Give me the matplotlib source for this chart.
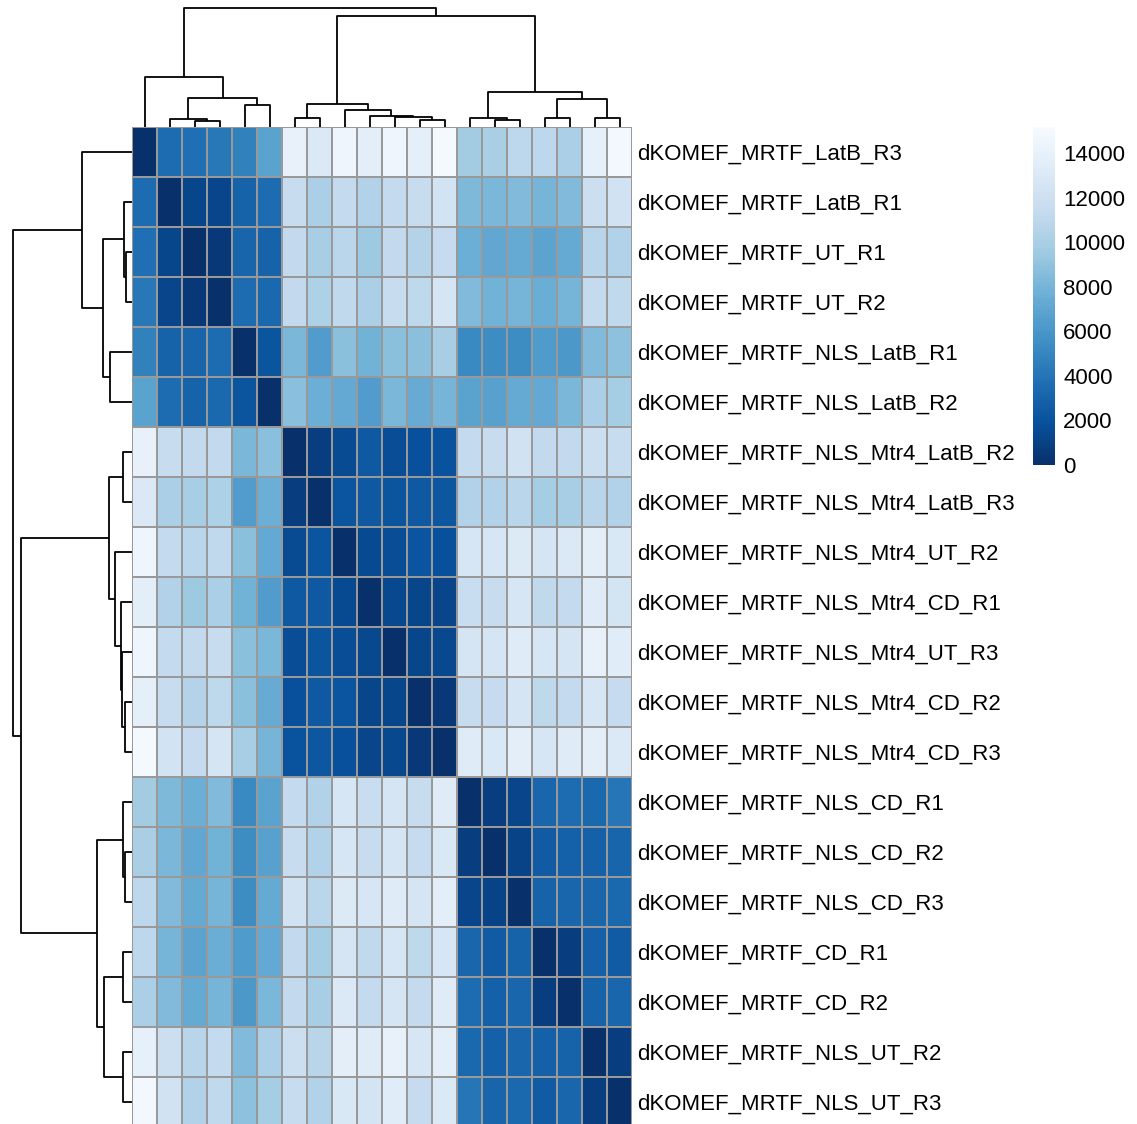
import numpy as np
import matplotlib
matplotlib.use("Agg")
import matplotlib.pyplot as plt
from matplotlib.colors import LinearSegmentedColormap

plt.rcParams['font.family'] = ['Liberation Sans', 'DejaVu Sans']

# sample names, already in clustered order (rows == columns)
samples = [
    "dKOMEF_MRTF_LatB_R3", "dKOMEF_MRTF_LatB_R1", "dKOMEF_MRTF_UT_R1",
    "dKOMEF_MRTF_UT_R2", "dKOMEF_MRTF_NLS_LatB_R1", "dKOMEF_MRTF_NLS_LatB_R2",
    "dKOMEF_MRTF_NLS_Mtr4_LatB_R2", "dKOMEF_MRTF_NLS_Mtr4_LatB_R3",
    "dKOMEF_MRTF_NLS_Mtr4_UT_R2", "dKOMEF_MRTF_NLS_Mtr4_CD_R1",
    "dKOMEF_MRTF_NLS_Mtr4_UT_R3", "dKOMEF_MRTF_NLS_Mtr4_CD_R2",
    "dKOMEF_MRTF_NLS_Mtr4_CD_R3", "dKOMEF_MRTF_NLS_CD_R1",
    "dKOMEF_MRTF_NLS_CD_R2", "dKOMEF_MRTF_NLS_CD_R3", "dKOMEF_MRTF_CD_R1",
    "dKOMEF_MRTF_CD_R2", "dKOMEF_MRTF_NLS_UT_R2", "dKOMEF_MRTF_NLS_UT_R3",
]

# sample distances, upper triangle (row i holds columns i+1 .. 19)
upper = [
    [3500, 3700, 4200, 4700, 6800, 14000, 13000, 14500, 13600, 14400, 13800, 14900, 9700, 10000, 10900, 10900, 10100, 13900, 14800],
    [1300, 1200, 3000, 3500, 11500, 10100, 11300, 10400, 11300, 11500, 12300, 8300, 8200, 8400, 8000, 8400, 11800, 12200],
    [500, 3100, 3000, 11200, 9900, 10800, 9500, 11200, 10500, 11400, 7600, 7100, 7300, 6900, 7300, 10700, 10400],
    [3500, 3300, 11200, 10200, 11100, 10100, 11500, 11000, 12500, 8400, 7800, 8000, 7500, 8000, 11300, 11100],
    [2200, 8200, 6400, 8800, 7800, 8800, 8800, 9900, 5200, 5400, 5400, 6300, 6100, 8400, 8900],
    [8700, 7600, 7200, 6400, 8200, 7400, 8000, 6800, 6700, 7300, 7200, 8200, 10100, 9800],
    [800, 1600, 2400, 1700, 1900, 2000, 11300, 11500, 12200, 11200, 11200, 11800, 11500],
    [2100, 2400, 2200, 2400, 2300, 10400, 10400, 10800, 9800, 9900, 10700, 10400],
    [1500, 1700, 2100, 1900, 12700, 12700, 13100, 12500, 13000, 13600, 12900],
    [1400, 1300, 1200, 11600, 11500, 12700, 11100, 11300, 13300, 12400],
    [1300, 1400, 12500, 12600, 13300, 12700, 12600, 14000, 13400],
    [500, 11500, 11400, 12500, 11000, 11300, 12700, 11400],
    [13300, 12900, 13600, 12700, 13300, 13600, 13000],
    [800, 1200, 3200, 3500, 3300, 4000],
    [1100, 2500, 2900, 2900, 3100],
    [3000, 3200, 3200, 3300],
    [800, 2900, 2500],
    [3000, 3200],
    [800],
]

# hierarchical clustering merges: (left, right, height); new nodes numbered from 20
merges = [
    (2, 3, 5.7), (1, 20, 7.7), (4, 5, 22.3), (21, 22, 29.3), (0, 23, 50.0),
    (6, 7, 9.0), (11, 12, 6.7), (10, 26, 10.0), (9, 27, 10.7), (8, 28, 16.7),
    (25, 29, 22.7), (14, 15, 7.3), (13, 31, 8.7), (16, 17, 8.7), (18, 19, 8.7),
    (33, 34, 28.0), (32, 35, 34.7), (30, 36, 110.7), (24, 37, 119.3),
]

cbar_ticks = [0, 2000, 4000, 6000, 8000, 10000, 12000, 14000]

n = len(samples)
mat = np.zeros((n, n))
for i, row in enumerate(upper):
    for k, v in enumerate(row):
        mat[i, i + 1 + k] = v
        mat[i + 1 + k, i] = v

blues = ["#F7FBFF", "#DEEBF7", "#C6DBEF", "#9ECAE1", "#6BAED6",
         "#4292C6", "#2171B5", "#08519C", "#08306B"]
cmap = LinearSegmentedColormap.from_list("blues_r", blues[::-1], N=255)
vmax = 15170

W, H = 1137, 1124
fig = plt.figure(figsize=(W / 100, H / 100), dpi=100)


def box(x0, y0, w, h):
    # pixel box (top-left origin) -> figure fraction
    return [x0 / W, (H - y0 - h) / H, w / W, h / H]


# heatmap
ax = fig.add_axes(box(132, 127, 500, 1000))
mesh = ax.pcolormesh(mat, cmap=cmap, vmin=0, vmax=vmax,
                     edgecolors="#999999", linewidth=1.2)
ax.set_xlim(0, n)
ax.set_ylim(n, 0)
ax.set_xticks([])
ax.set_yticks(np.arange(n) + 0.5)
ax.set_yticklabels(samples, fontsize=16)
ax.yaxis.tick_right()
ax.tick_params(axis="y", length=0, pad=4)
for s in ax.spines.values():
    s.set_visible(False)


def draw_dendro(axis, vertical):
    pos = {i: i + 0.5 for i in range(n)}
    hgt = {i: 0.0 for i in range(n)}
    for k, (a, b, h) in enumerate(merges):
        xs = [pos[a], pos[a], pos[b], pos[b]]
        ys = [hgt[a], h, h, hgt[b]]
        if vertical:
            axis.plot(xs, ys, color="black", lw=1.3, solid_capstyle="butt")
        else:
            axis.plot(ys, xs, color="black", lw=1.3, solid_capstyle="butt")
        pos[n + k] = (pos[a] + pos[b]) / 2
        hgt[n + k] = h
    axis.axis("off")


# column dendrogram
axt = fig.add_axes(box(132, 5, 500, 122))
draw_dendro(axt, True)
axt.set_xlim(0, n)
axt.set_ylim(0, 122)

# row dendrogram
axl = fig.add_axes(box(10, 127, 122, 1000))
draw_dendro(axl, False)
axl.set_xlim(122, 0)
axl.set_ylim(n, 0)

# colour legend
cax = fig.add_axes(box(1033, 127, 22, 338))
cb = fig.colorbar(mesh, cax=cax, ticks=cbar_ticks)
cb.outline.set_visible(False)
cax.tick_params(length=0, labelsize=16, pad=6)

fig.savefig("out.png", dpi=100)
